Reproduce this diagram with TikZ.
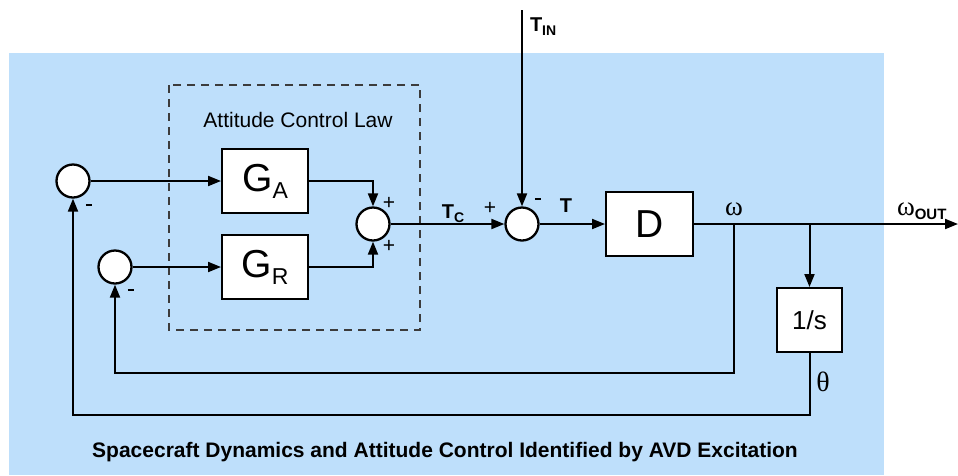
\documentclass[tikz,border=0pt]{standalone}
\usepackage{fontspec}
\setmainfont{Liberation Sans}
\newfontfamily\serifgr{Liberation Serif}
\usetikzlibrary{arrows.meta}
\definecolor{bgblue}{RGB}{190,223,251}
\definecolor{dashgray}{RGB}{60,60,60}
\newcommand{\fs}[1]{\fontsize{#1}{#1}\selectfont}
\newcommand{\mns}{\rule{6.5pt}{2.6pt}}
\begin{document}
\begin{tikzpicture}[x=1pt,y=-1pt,
  line width=2pt,
  arr/.style={-{Triangle[length=13pt,width=10pt]}},
  sumc/.style={circle,draw,fill=white,minimum size=33pt,inner sep=0pt,line width=2.3pt},
  blk/.style={rectangle,draw,fill=white,minimum width=86pt,minimum height=64pt,inner sep=0pt,line width=2pt},
  sgn/.style={inner sep=0pt,font=\fs{21}},
  lbl/.style={inner sep=0pt}]
\useasboundingbox (0,0) rectangle (958,475);
\fill[bgblue] (9,53) rectangle (884,475);
\draw[dashgray,line width=1.3pt,dash pattern=on 8pt off 6pt] (169,85) rectangle (420,330);
\node[lbl,font=\fs{21}] (acl) at (298,120) {Attitude Control Law};

\node[sumc] (c1) at (73,181) {};
\node[sumc] (c2) at (115,267) {};
\node[blk] (ga) at (265,181) {\fs{39}G\raisebox{-7pt}{\fs{23}A}};
\node[blk] (gr) at (265,267) {\fs{39}G\raisebox{-7pt}{\fs{23}R}};
\node[sumc] (s1) at (373,224) {};
\node[sumc] (s2) at (522,224) {};
\node[blk,minimum width=87pt] (d) at (649.5,224) {\fs{39}D};
\node[blk,minimum width=65pt] (int) at (809.5,320) {\fs{26}1/s};

\coordinate (b1) at (734,224);
\coordinate (b2) at (809.5,224);
\coordinate (out) at (958,224);
\coordinate (tin) at (522,10);
\coordinate (f1) at (734,373);
\coordinate (f2) at (809.5,415);

\draw[arr] (c1) -- (ga);
\draw[arr] (c2) -- (gr);
\draw[arr] (ga.east) -| (s1.north);
\draw[arr] (gr.east) -| (s1.south);
\draw[arr] (s1) -- (s2);
\draw[arr] (tin) -- (s2.north);
\draw[arr] (s2) -- (d);
\draw[arr] (d) -- (out);
\draw[arr] (b2) -- (int.north);
\draw[arr] (b1) -- (f1) -| (c2.south);
\draw[arr] (int.south) -- (f2) -| (c1.south);

\node[sgn] (m1) at (89,205) {\mns};
\node[sgn] (m2) at (131,290) {\mns};
\node[sgn] (p1) at (389,203) {+};
\node[sgn] (p2) at (389,246) {+};
\node[sgn] (p3) at (490,208) {+};
\node[sgn] (m3) at (538,199) {\mns};

\node[lbl,anchor=base] (tc) at (453,218) {\fs{20}\bfseries T\raisebox{-4pt}{\fs{14}C}};
\node[lbl,anchor=base] (t) at (566,212) {\fs{20}\bfseries T};
\node[lbl,anchor=base west] (tinl) at (529,31) {\fs{20}\bfseries T\raisebox{-4pt}{\fs{14}IN}};
\node[lbl,anchor=base] (w) at (734,215) {\serifgr\fs{27}ω};
\node[lbl,anchor=base west] (wout) at (896,215) {{\serifgr\fs{27}ω}\raisebox{-4pt}{\fs{15}\bfseries OUT}};
\node[lbl,anchor=base] (th) at (823,391) {\serifgr\fs{28}θ};
\node[lbl,anchor=base,font=\fs{21}\bfseries] (title) at (445,457) {Spacecraft Dynamics and Attitude Control Identified by AVD Excitation};
\end{tikzpicture}
\end{document}
